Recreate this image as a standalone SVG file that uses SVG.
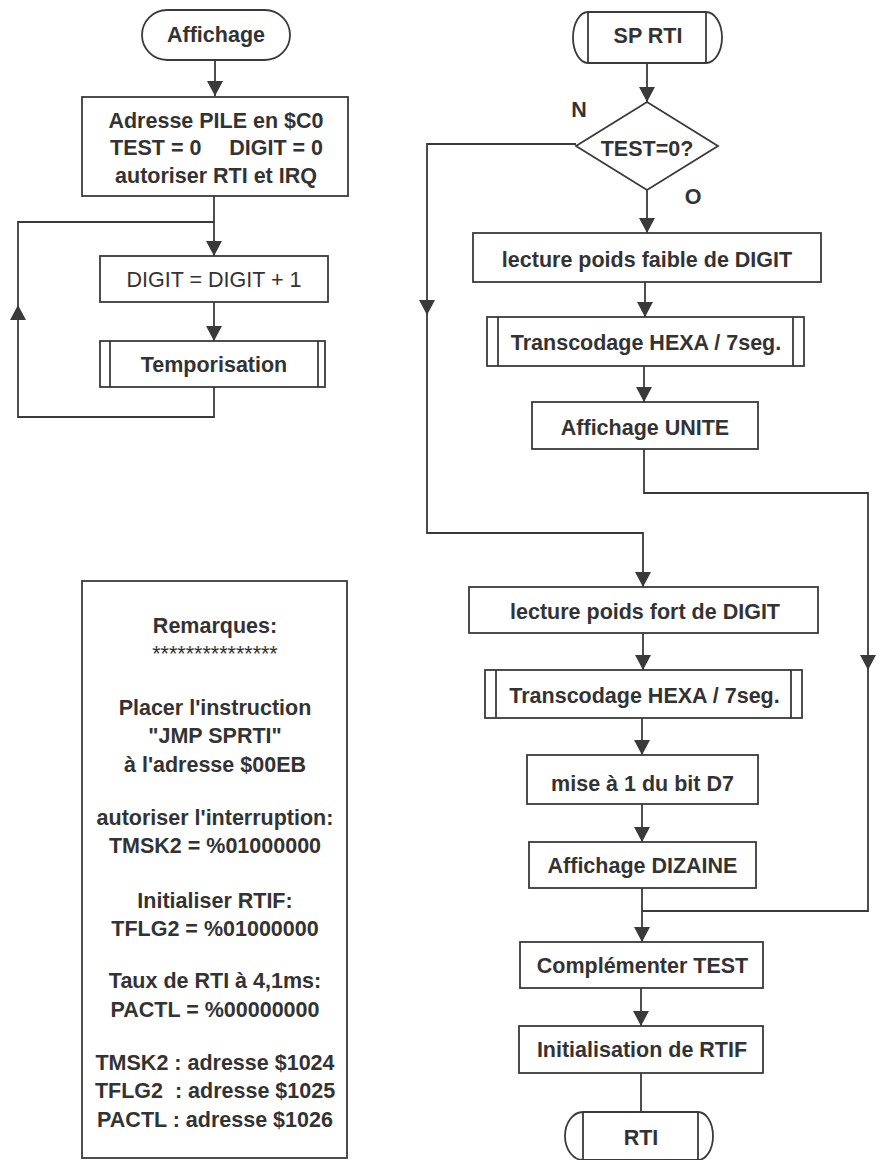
<svg xmlns="http://www.w3.org/2000/svg" width="882" height="1160" viewBox="0 0 882 1160">
<defs>
<style>
.bx{fill:#fff;stroke:#3a3a3a;stroke-width:1.8}
.ln{fill:none;stroke:#3a3a3a;stroke-width:1.8}
.t{font-family:"Liberation Sans",Arial,sans-serif;font-size:21.5px;font-weight:bold;fill:#333;text-anchor:middle}
.n{font-weight:normal}
</style>
<marker id="ah" markerUnits="userSpaceOnUse" markerWidth="16" markerHeight="16" refX="15" refY="8" orient="auto" viewBox="0 0 16 16">
<path d="M0,0 L15,8 L0,16 Z" fill="#3a3a3a"/>
</marker>
</defs>
<rect width="882" height="1160" fill="#fff"/>

<g id="connectors">
<path class="ln" d="M215,60 V96" marker-end="url(#ah)"/>
<path class="ln" d="M214,196 V256" marker-end="url(#ah)"/>
<path class="ln" d="M214,302 V341" marker-end="url(#ah)"/>
<path class="ln" d="M214,387 V417 H18 V305" marker-end="url(#ah)"/>
<path class="ln" d="M18,305 V222 H214"/>

<path class="ln" d="M647,63 V102" marker-end="url(#ah)"/>
<path class="ln" d="M576,144 H427 V315" marker-end="url(#ah)"/>
<path class="ln" d="M427,315 V533 H643 V587" marker-end="url(#ah)"/>
<path class="ln" d="M647,190 V233" marker-end="url(#ah)"/>
<path class="ln" d="M645,282 V317" marker-end="url(#ah)"/>
<path class="ln" d="M644,366 V402" marker-end="url(#ah)"/>
<path class="ln" d="M644,449 V493 H868 V670" marker-end="url(#ah)"/>
<path class="ln" d="M868,670 V911 H642"/>
<path class="ln" d="M643,633 V670" marker-end="url(#ah)"/>
<path class="ln" d="M642,718 V755" marker-end="url(#ah)"/>
<path class="ln" d="M642,804 V842" marker-end="url(#ah)"/>
<path class="ln" d="M642,888 V942" marker-end="url(#ah)"/>
<path class="ln" d="M641,988 V1026" marker-end="url(#ah)"/>
<path class="ln" d="M641,1073 V1112"/>
<text class="t" x="579" y="117">N</text>
<text class="t" x="693" y="204">O</text>
</g>

<g id="n-affichage">
<rect class="bx" x="142" y="10" width="148" height="50" rx="25" ry="25"/>
<text class="t" x="216" y="42">Affichage</text>
</g>

<g id="n-init">
<rect class="bx" x="82" y="97" width="266" height="99"/>
<text class="t" x="216" y="128">Adresse PILE en $C0</text>
<text class="t" x="110" y="155" style="text-anchor:start">TEST = 0</text>
<text class="t" x="323" y="155" style="text-anchor:end">DIGIT = 0</text>
<text class="t" x="216" y="183">autoriser RTI et IRQ</text>
</g>

<g id="n-digit">
<rect class="bx" x="100" y="256" width="228" height="46"/>
<text class="t n" x="214" y="287">DIGIT = DIGIT + 1</text>
</g>

<g id="n-tempo">
<rect class="bx" x="100" y="341" width="225" height="46"/>
<path class="ln" d="M110,341 V387 M318,341 V387"/>
<text class="t" x="214" y="372">Temporisation</text>
</g>

<g id="n-remarques">
<rect class="bx" x="82" y="581" width="265" height="577"/>
<text class="t" x="215" y="633">Remarques:</text>
<text class="t n" x="215" y="661">***************</text>
<text class="t" x="215" y="715">Placer l'instruction</text>
<text class="t" x="215" y="743">"JMP SPRTI"</text>
<text class="t" x="215" y="772">à l'adresse $00EB</text>
<text class="t" x="215" y="825">autoriser l'interruption:</text>
<text class="t" x="215" y="853">TMSK2 = %01000000</text>
<text class="t" x="215" y="908">Initialiser RTIF:</text>
<text class="t" x="215" y="936">TFLG2 = %01000000</text>
<text class="t" x="215" y="988">Taux de RTI à 4,1ms:</text>
<text class="t" x="215" y="1017">PACTL = %00000000</text>
<text class="t" x="215" y="1070">TMSK2 : adresse $1024</text>
<text class="t" x="215" y="1098" style="white-space:pre">TFLG2  : adresse $1025</text>
<text class="t" x="215" y="1127">PACTL : adresse $1026</text>
</g>

<g id="n-sprti">
<path class="bx" d="M588,12 H706 A16,25.5 0 0 1 706,63 H588 A15,25.5 0 0 1 588,12 Z"/>
<path class="ln" d="M588,12 V63 M706,12 V63"/>
<text class="t" x="648" y="43">SP RTI</text>
</g>

<g id="n-test">
<polygon class="bx" points="647,102 718,146 647,190 576,146"/>
<text class="t" x="647" y="156">TEST=0?</text>
</g>

<g id="n-faible">
<rect class="bx" x="473" y="233" width="348" height="49"/>
<text class="t" x="647" y="267">lecture poids faible de DIGIT</text>
</g>

<g id="n-trans1">
<rect class="bx" x="487" y="317" width="317" height="49"/>
<path class="ln" d="M498,317 V366 M793,317 V366"/>
<text class="t" x="646" y="350">Transcodage HEXA / 7seg.</text>
</g>

<g id="n-unite">
<rect class="bx" x="532" y="402" width="226" height="47"/>
<text class="t" x="645" y="435">Affichage UNITE</text>
</g>

<g id="n-fort">
<rect class="bx" x="469" y="587" width="349" height="46"/>
<text class="t" x="645" y="619">lecture poids fort de DIGIT</text>
</g>

<g id="n-trans2">
<rect class="bx" x="485" y="670" width="317" height="48"/>
<path class="ln" d="M496,670 V718 M791,670 V718"/>
<text class="t" x="644.5" y="703">Transcodage HEXA / 7seg.</text>
</g>

<g id="n-bit">
<rect class="bx" x="527" y="755" width="231" height="49"/>
<text class="t" x="642.5" y="791">mise à 1 du bit D7</text>
</g>

<g id="n-dizaine">
<rect class="bx" x="529" y="842" width="227" height="46"/>
<text class="t" x="642.5" y="873">Affichage DIZAINE</text>
</g>

<g id="n-compl">
<rect class="bx" x="520" y="942" width="243" height="46"/>
<text class="t" x="642.5" y="973">Complémenter TEST</text>
</g>

<g id="n-rtif">
<rect class="bx" x="519" y="1026" width="244" height="47"/>
<text class="t" x="642" y="1057">Initialisation de RTIF</text>
</g>

<g id="n-rti">
<path class="bx" d="M583,1112 H698 A15,24 0 0 1 698,1160 H583 A18,24 0 0 1 583,1112 Z"/>
<path class="ln" d="M583,1112 V1160 M698,1112 V1160"/>
<text class="t" x="641" y="1145">RTI</text>
</g>
</svg>
